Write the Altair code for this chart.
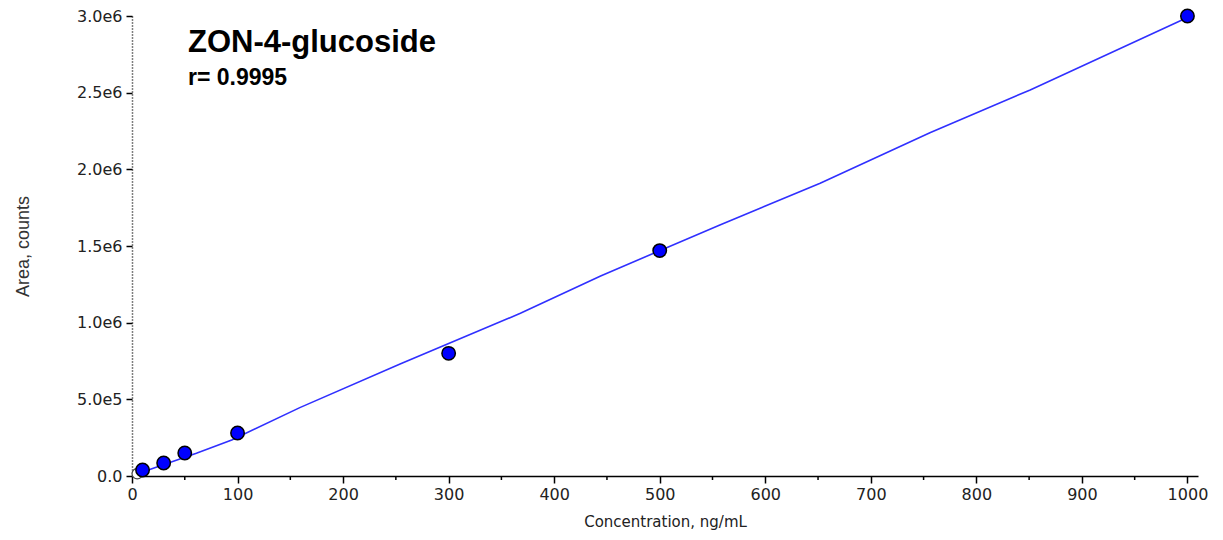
import altair as alt
import pandas as pd

# calibration points (concentration, area)
conc = [10, 30, 50, 100, 300, 500, 1000]
area = [39000, 85000, 150000, 280000, 800000, 1470000, 3000000]

# excluded point
excl_conc = [5]
excl_area = [15000]

# fitted curve
fit_conc = [4, 10.7, 61, 94.5, 159, 254, 368, 444, 557, 652, 756, 851, 1000]
fit_area = [5000, 28000, 148000, 235000, 446000, 731000, 1061000, 1305000,
            1637000, 1909000, 2239000, 2518000, 2990000]

x_ticks = [0, 100, 200, 300, 400, 500, 600, 700, 800, 900, 1000]
x_minor = [50, 150, 250, 350, 450, 550, 650, 750, 850, 950]
y_ticks = [0, 500000, 1000000, 1500000, 2000000, 2500000, 3000000]
y_labels = ["0.0", "5.0e5", "1.0e6", "1.5e6", "2.0e6", "2.5e6", "3.0e6"]

title_text = "ZON-4-glucoside"
r_text = "r= 0.9995"

W, H = 1066, 460

label_expr = ""
for v, l in zip(y_ticks, y_labels):
    label_expr += f"datum.value == {v} ? '{l}' : "
label_expr += "''"

xs = alt.Scale(domain=[0, 1010], nice=False, zero=False)
ys = alt.Scale(domain=[0, 3000000], nice=False, zero=False)

pts = pd.DataFrame({"x": conc, "y": area})
ex = pd.DataFrame({"x": excl_conc, "y": excl_area})
fit = pd.DataFrame({"x": fit_conc, "y": fit_area})
minor = pd.DataFrame({"x": x_minor})

line = alt.Chart(fit).mark_line(color="#3030ff", strokeWidth=1.6).encode(
    x=alt.X("x:Q", scale=xs, title="Concentration, ng/mL",
            axis=alt.Axis(values=x_ticks, format="d", labelFont="DejaVu Sans", labelFontSize=16,
                          labelColor="#222", titleFont="DejaVu Sans", titleFontSize=15,
                          titleFontWeight="normal",
                          titleColor="#222", domainColor="#000", domainWidth=1.5,
                          tickColor="#000", tickSize=7, tickWidth=1.5, labelPadding=3,
                          titlePadding=12, grid=False, labelFlush=False)),
    y=alt.Y("y:Q", scale=ys, title="Area, counts",
            axis=alt.Axis(values=y_ticks, labelExpr=label_expr, labelFont="DejaVu Sans",
                          labelFontSize=16, labelColor="#222", titleFont="Liberation Sans",
                          titleFontSize=18, titleColor="#333", titleFontWeight="normal",
                          domainColor="#000", domainDash=[1, 2], domainWidth=1.5,
                          tickColor="#000", tickSize=6, tickWidth=1.5, labelPadding=4,
                          titlePadding=44, grid=False, labelFlush=False)),
)

minor_ticks = alt.Chart(minor).mark_rule(color="#000", strokeWidth=1.5).encode(
    x=alt.X("x:Q", scale=xs),
    y=alt.value(H),
    y2=alt.value(H + 4),
)

excluded = alt.Chart(ex).mark_point(filled=True, shape="circle", size=110,
                                    color="white", stroke="#444", strokeWidth=1.2,
                                    opacity=1).encode(
    x=alt.X("x:Q", scale=xs), y=alt.Y("y:Q", scale=ys))

points = alt.Chart(pts).mark_point(filled=True, shape="circle", size=180,
                                  fill="#0000ff", stroke="#000", strokeWidth=1.5,
                                  opacity=1).encode(
    x=alt.X("x:Q", scale=xs), y=alt.Y("y:Q", scale=ys))

t1 = alt.Chart(pd.DataFrame({"t": [title_text]})).mark_text(
    font="Liberation Sans", fontSize=31, fontWeight="bold", align="left",
    baseline="alphabetic", color="#000").encode(
    text="t:N", x=alt.value(56), y=alt.value(36))

t2 = alt.Chart(pd.DataFrame({"t": [r_text]})).mark_text(
    font="Liberation Sans", fontSize=23, fontWeight="bold", align="left",
    baseline="alphabetic", color="#000").encode(
    text="t:N", x=alt.value(56), y=alt.value(69))

chart = alt.layer(line, minor_ticks, excluded, points, t1, t2).properties(
    width=W, height=H,
    autosize=alt.AutoSizeParams(type="none"),
    padding={"left": 132, "top": 16, "right": 25, "bottom": 64},
).configure(background="white").configure_view(stroke=None, strokeWidth=0)

chart.save("out.html", embed_options={"renderer": "svg", "actions": False})
